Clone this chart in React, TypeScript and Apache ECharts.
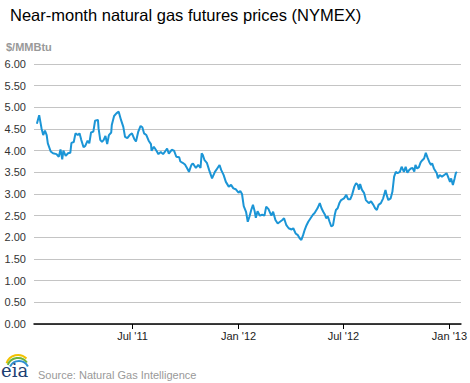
import React, { useEffect, useRef } from "react";
import * as echarts from "echarts";

const dates: string[] = [
  "2011-01-16","2011-01-20","2011-01-24","2011-01-27","2011-01-30","2011-02-02","2011-02-04","2011-02-09","2011-02-13","2011-02-19",
  "2011-02-23","2011-02-26","2011-03-01","2011-03-03","2011-03-07","2011-03-11","2011-03-15","2011-03-17","2011-03-21","2011-03-24",
  "2011-03-28","2011-03-31","2011-04-03","2011-04-07","2011-04-10","2011-04-14","2011-04-17","2011-04-20","2011-04-24","2011-04-27",
  "2011-05-02","2011-05-03","2011-05-06","2011-05-09","2011-05-12","2011-05-15","2011-05-18","2011-05-21","2011-05-25","2011-05-26",
  "2011-05-30","2011-06-03","2011-06-07","2011-06-11","2011-06-15","2011-06-18","2011-06-22","2011-06-26","2011-06-30","2011-07-04",
  "2011-07-07","2011-07-11","2011-07-15","2011-07-18","2011-07-21","2011-07-25","2011-07-29","2011-08-02","2011-08-03","2011-08-07",
  "2011-08-11","2011-08-15","2011-08-19","2011-08-23","2011-08-26","2011-08-30","2011-09-02","2011-09-07","2011-09-11","2011-09-15",
  "2011-09-20","2011-09-22","2011-09-26","2011-09-30","2011-10-04","2011-10-07","2011-10-10","2011-10-12","2011-10-14","2011-10-15",
  "2011-10-19","2011-10-23","2011-10-27","2011-10-29","2011-10-31","2011-11-03","2011-11-07","2011-11-11","2011-11-16","2011-11-21",
  "2011-11-25","2011-11-29","2011-12-02","2011-12-06","2011-12-10","2011-12-15","2011-12-19","2011-12-23","2011-12-27","2012-01-01",
  "2012-01-04","2012-01-07","2012-01-10","2012-01-14","2012-01-17","2012-01-20","2012-01-23","2012-01-26","2012-01-29","2012-01-31",
  "2012-02-03","2012-02-07","2012-02-11","2012-02-15","2012-02-18","2012-02-22","2012-02-25","2012-02-27","2012-03-01","2012-03-05",
  "2012-03-09","2012-03-13","2012-03-17","2012-03-20","2012-03-24","2012-03-28","2012-04-02","2012-04-05","2012-04-09","2012-04-13",
  "2012-04-16","2012-04-19","2012-04-22","2012-04-25","2012-04-28","2012-05-01","2012-05-05","2012-05-09","2012-05-12","2012-05-17",
  "2012-05-21","2012-05-24","2012-05-27","2012-05-30","2012-06-01","2012-06-04","2012-06-07","2012-06-10","2012-06-13","2012-06-16",
  "2012-06-18","2012-06-21","2012-06-24","2012-06-27","2012-07-02","2012-07-06","2012-07-09","2012-07-13","2012-07-16","2012-07-20",
  "2012-07-23","2012-07-26","2012-07-28","2012-07-30","2012-08-02","2012-08-06","2012-08-09","2012-08-14","2012-08-18","2012-08-22",
  "2012-08-25","2012-08-28","2012-08-31","2012-09-04","2012-09-08","2012-09-12","2012-09-14","2012-09-17","2012-09-21","2012-09-24",
  "2012-09-27","2012-09-30","2012-10-03","2012-10-07","2012-10-10","2012-10-14","2012-10-17","2012-10-20","2012-10-23","2012-10-26",
  "2012-10-29","2012-11-01","2012-11-03","2012-11-06","2012-11-09","2012-11-12","2012-11-15","2012-11-18","2012-11-21","2012-11-24",
  "2012-11-27","2012-11-30","2012-12-02","2012-12-05","2012-12-10","2012-12-12","2012-12-15","2012-12-19","2012-12-23","2012-12-27",
  "2012-12-29","2013-01-02","2013-01-04","2013-01-07","2013-01-10","2013-01-12","2013-01-14"
];

const prices: number[] = [
  4.62,4.82,4.52,4.36,4.46,4.36,4.17,3.98,3.94,3.92,
  3.86,4.03,3.80,4.00,3.88,3.94,3.95,4.18,4.20,4.40,
  4.36,4.40,4.25,4.08,4.11,4.23,4.17,4.42,4.44,4.69,
  4.71,4.52,4.25,4.20,4.25,4.34,4.15,4.36,4.42,4.59,
  4.80,4.86,4.90,4.71,4.55,4.32,4.29,4.36,4.40,4.27,
  4.21,4.44,4.57,4.54,4.40,4.36,4.23,4.15,4.00,4.09,
  4.01,3.92,3.97,3.92,3.97,4.05,3.93,4.02,4.00,3.86,
  3.85,3.75,3.72,3.68,3.59,3.51,3.63,3.69,3.70,3.68,
  3.60,3.67,3.60,3.94,3.90,3.78,3.72,3.55,3.36,3.51,
  3.59,3.67,3.55,3.44,3.28,3.17,3.21,3.13,3.11,3.03,
  3.07,3.00,2.72,2.59,2.36,2.48,2.63,2.75,2.60,2.45,
  2.60,2.50,2.52,2.50,2.71,2.65,2.56,2.50,2.59,2.40,
  2.32,2.36,2.40,2.44,2.28,2.21,2.18,2.21,2.09,2.05,
  1.98,1.94,2.05,2.18,2.28,2.36,2.44,2.52,2.56,2.67,
  2.79,2.67,2.59,2.52,2.44,2.48,2.36,2.25,2.28,2.52,
  2.63,2.67,2.79,2.86,2.90,2.98,2.88,2.88,2.98,3.17,
  3.25,3.21,3.10,3.23,3.10,3.02,2.86,2.79,2.83,2.75,
  2.67,2.63,2.75,2.79,2.90,3.09,2.98,2.86,2.90,3.05,
  3.40,3.51,3.48,3.51,3.63,3.51,3.63,3.49,3.55,3.59,
  3.60,3.52,3.67,3.59,3.62,3.73,3.78,3.82,3.95,3.84,
  3.74,3.67,3.71,3.59,3.48,3.36,3.44,3.40,3.44,3.48,
  3.42,3.28,3.36,3.21,3.36,3.48,3.51
];

const tickDates: string[] = ["2011-07-01", "2012-01-01", "2012-07-01", "2013-01-01"];
const monthNames: string[] = ["Jan","Feb","Mar","Apr","May","Jun","Jul","Aug","Sep","Oct","Nov","Dec"];
const axisMin = "2011-01-11";
const axisMax = "2013-01-21";

const toTs = (s: string) => new Date(s + "T00:00:00Z").getTime();

export default function App() {
  const ref = useRef<HTMLDivElement>(null);
  useEffect(() => {
    if (!ref.current) return;
    const chart = echarts.init(ref.current, null, { renderer: "svg" });
    const font = "Arial, 'Liberation Sans', sans-serif";
    const tickTs = tickDates.map(toTs);
    chart.setOption({
      animation: false,
      backgroundColor: "#ffffff",
      title: {
        text: "Near-month natural gas futures prices (NYMEX)",
        left: 5,
        top: 1,
        textStyle: { fontSize: 16.5, fontWeight: "normal", color: "#000", fontFamily: font },
      },
      grid: { left: 34, right: 6, top: 64, bottom: 59 },
      xAxis: {
        type: "value",
        min: toTs(axisMin),
        max: toTs(axisMax),
        axisLine: { show: true, onZero: false, lineStyle: { color: "#000", width: 1.5 } },
        axisTick: { show: true, customValues: tickTs, length: 5, inside: false, lineStyle: { color: "#000", width: 1 } },
        axisLabel: {
          customValues: tickTs,
          color: "#222",
          fontSize: 11,
          fontFamily: font,
          margin: 6,
          hideOverlap: false,
          formatter: (v: number) => {
            const d = new Date(v);
            return monthNames[d.getUTCMonth()] + " '" + String(d.getUTCFullYear()).slice(2);
          },
        },
        splitLine: { show: false },
      },
      yAxis: {
        type: "value",
        min: 0,
        max: 6,
        interval: 0.5,
        axisLine: { show: false },
        axisTick: { show: false },
        axisLabel: {
          color: "#333",
          fontSize: 11,
          fontFamily: font,
          margin: 8,
          formatter: (v: number) => v.toFixed(2),
        },
        splitLine: { show: true, lineStyle: { color: "#c4c4c4", width: 1 } },
      },
      series: [
        {
          type: "line",
          data: dates.map((d, i) => [toTs(d), prices[i]]),
          showSymbol: false,
          symbol: "none",
          lineStyle: { color: "#1b95d6", width: 2 },
          z: 3,
        },
      ],
      graphic: [
        {
          type: "text",
          left: 6,
          top: 41,
          style: { text: "$/MMBtu", fill: "#999", fontSize: 11, fontWeight: "bold", fontFamily: font },
        },
        {
          type: "text",
          left: 38,
          top: 369,
          style: { text: "Source: Natural Gas Intelligence", fill: "#999", fontSize: 11, fontFamily: font },
        },
        {
          type: "arc",
          shape: { cx: 18, cy: 367, r: 12, startAngle: Math.PI * 1.1, endAngle: Math.PI * 1.75 },
          style: { stroke: "#f2c200", lineWidth: 2, fill: "none" },
        },
        {
          type: "arc",
          shape: { cx: 18, cy: 369, r: 11, startAngle: Math.PI * 1.12, endAngle: Math.PI * 1.8 },
          style: { stroke: "#6cb33f", lineWidth: 2, fill: "none" },
        },
        {
          type: "arc",
          shape: { cx: 19, cy: 371, r: 10, startAngle: Math.PI * 1.15, endAngle: Math.PI * 1.85 },
          style: { stroke: "#2f8fd0", lineWidth: 2, fill: "none" },
        },
        {
          type: "text",
          left: 1,
          top: 360,
          style: { text: "eia", fill: "#1d3f73", fontSize: 18, lineHeight: 20, fontFamily: "'DejaVu Serif', 'Liberation Serif', serif" },
        },
      ],
    });
    return () => chart.dispose();
  }, []);
  return <div ref={ref} style={{ width: 470, height: 383, position: "absolute", left: 0, top: 0 }} />;
}
